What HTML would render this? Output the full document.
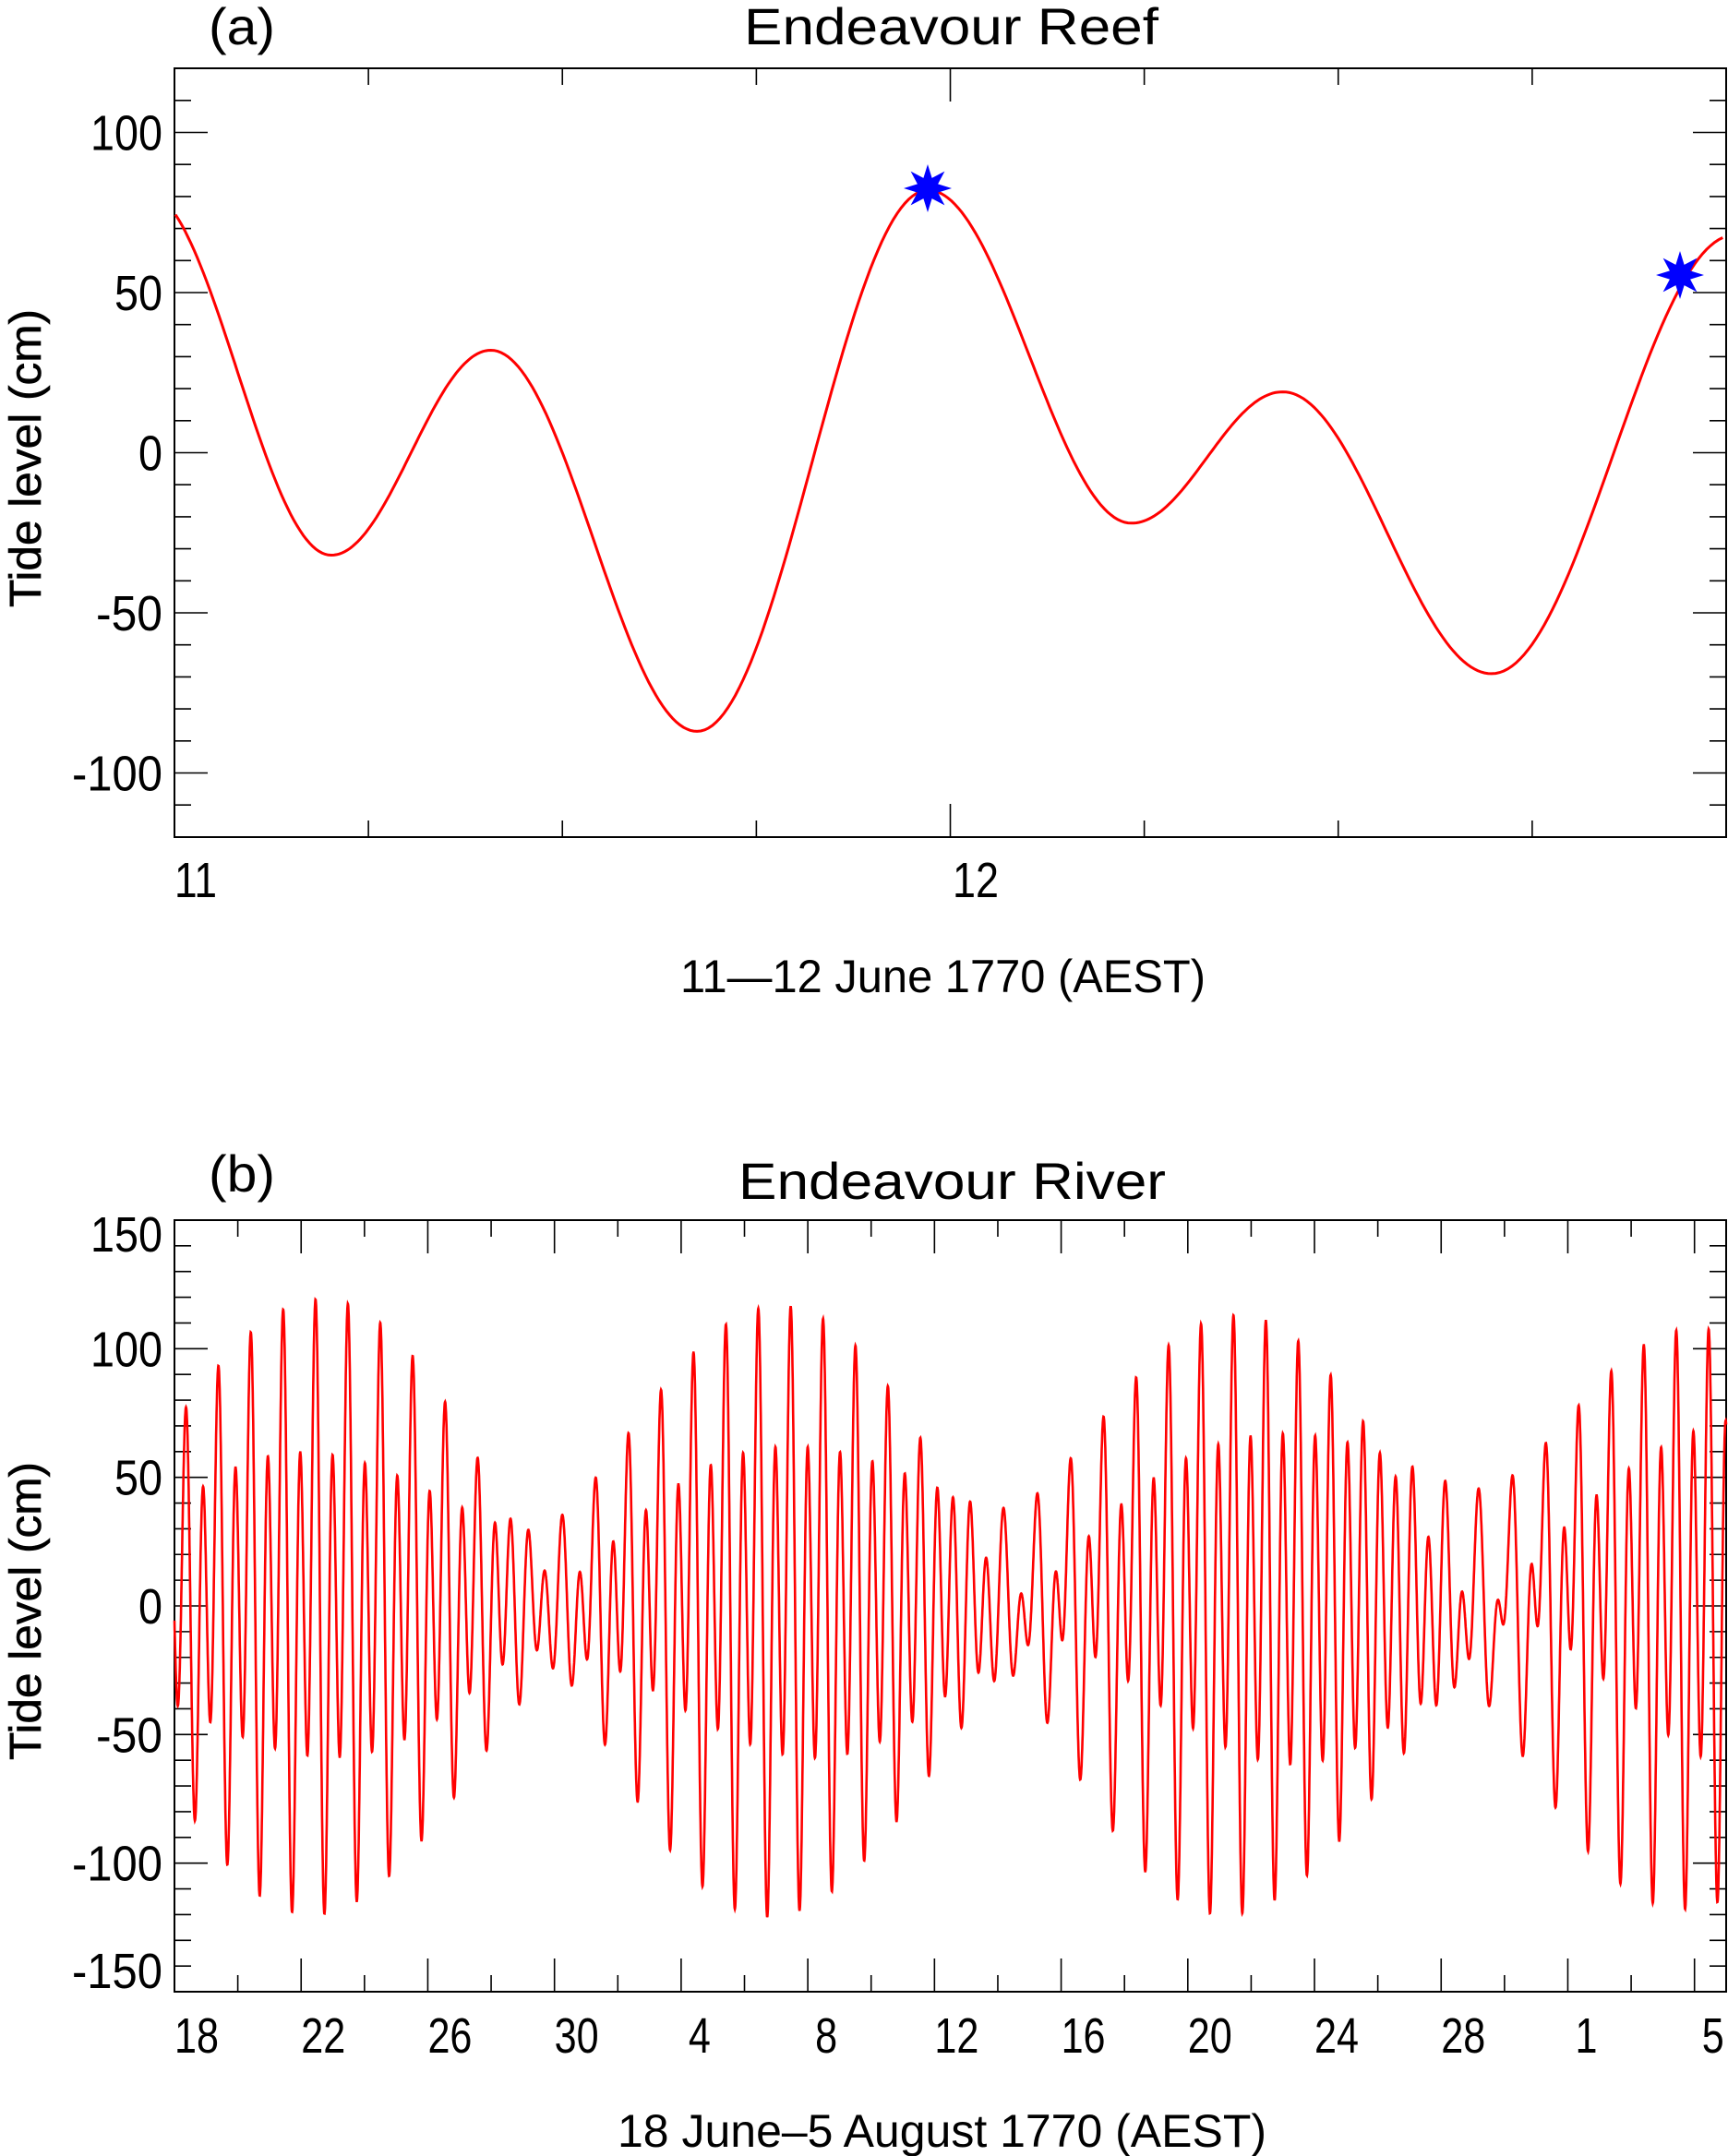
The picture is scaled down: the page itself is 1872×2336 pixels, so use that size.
<!DOCTYPE html>
<html><head><meta charset="utf-8"><style>
html,body{margin:0;padding:0;background:#fff;}
svg{display:block;}
text{font-family:"Liberation Sans",sans-serif;fill:#000;}
</style></head><body>
<svg id="s" width="1872" height="2336" viewBox="0 0 1872 2336" xmlns="http://www.w3.org/2000/svg">
<g font-size="56">
<text x="226" y="48" textLength="72" lengthAdjust="spacingAndGlyphs">(a)</text>
<text x="806" y="48" textLength="449" lengthAdjust="spacingAndGlyphs">Endeavour Reef</text>
<text x="226" y="1291" textLength="72" lengthAdjust="spacingAndGlyphs">(b)</text>
<text x="800" y="1299" textLength="463" lengthAdjust="spacingAndGlyphs">Endeavour River</text>
</g>
<g font-size="50">
<text x="737" y="1075" textLength="569" lengthAdjust="spacingAndGlyphs">11—12 June 1770 (AEST)</text>
<text x="669" y="2326" textLength="703" lengthAdjust="spacingAndGlyphs">18 June–5 August 1770 (AEST)</text>
</g>
<g font-size="48" stroke="#000" stroke-width="0.6">
<text transform="translate(44,658) rotate(-90)" textLength="323" lengthAdjust="spacingAndGlyphs">Tide level (cm)</text>
<text transform="translate(44,1907) rotate(-90)" textLength="323" lengthAdjust="spacingAndGlyphs">Tide level (cm)</text>
</g>
<g id="g"></g>
</svg>
<script>
var NS="http://www.w3.org/2000/svg",G=document.getElementById("g");
function el(t,a,txt){var e=document.createElementNS(NS,t);for(var k in a)e.setAttribute(k,a[k]);if(txt!==undefined)e.textContent=txt;G.appendChild(e);return e;}
var L=189,R=1870;
function frame(T,B){el("rect",{x:L,y:T,width:R-L,height:B-T,fill:"none",stroke:"#000","stroke-width":2});}
function yt(Y,v,major){var l=major?36:18;el("line",{x1:L,y1:Y,x2:L+l,y2:Y,stroke:"#000","stroke-width":1.6});el("line",{x1:R-l,y1:Y,x2:R,y2:Y,stroke:"#000","stroke-width":1.6});}
function xt(X,T,B,major){var l=major?36:18;el("line",{x1:X,y1:B,x2:X,y2:B-l,stroke:"#000","stroke-width":1.6});el("line",{x1:X,y1:T,x2:X,y2:T+l,stroke:"#000","stroke-width":1.6});}
function lab(x,y,s,anchor,w){var a={x:x,y:y,"font-size":54,"text-anchor":anchor};if(w){a.textLength=w;a.lengthAdjust="spacingAndGlyphs";}el("text",a,s);}
function yw(s){var n=s.replace("-","").length;return n*26+(s[0]=="-"?20:0);}
// Panel a
var aT=74,aB=907;function aY(v){return 490.5-v*3.47;}function aX(d){return L+d*840.5;}
frame(aT,aB);
for(var v=-120;v<=120;v+=10){yt(aY(v),v,v%50==0);}
[100,50,0,-50,-100].forEach(function(v){var s=String(v);lab(176,aY(v)+19,s,"end",yw(s));});
for(var d=0;d<=2;d+=0.25){xt(aX(d),aT,aB,d%1==0);}
lab(189,972,"11","start",46);lab(1032,972,"12","start",50);
var ex=[[105,82],[241,-32],[357,32],[507,-87],[675,82],[823,-22],[933,19],[1085,-69],[1262,68]];
var p="";
for(var i=0;i<ex.length-1;i++){var x0=ex[i][0]*1.4893,x1=ex[i+1][0]*1.4893,v0=ex[i][1],v1=ex[i+1][1];
 for(var k=0;k<=60;k++){var t=k/60,x=x0+(x1-x0)*t;if(x<L||x>R)continue;var v=v0+(v1-v0)*(1-Math.cos(Math.PI*t))/2;p+=(p?"L":"M")+x.toFixed(1)+","+aY(v).toFixed(1);}}
el("path",{d:p,fill:"none",stroke:"#ff0000","stroke-width":3});
function star(cx,cy){var s="";for(var i=0;i<16;i++){var r=i%2?12:26,a=Math.PI*i/8-Math.PI/2;s+=(cx+r*Math.cos(a)).toFixed(1)+","+(cy+r*Math.sin(a)).toFixed(1)+" ";}el("polygon",{points:s,fill:"#0000ff"});}
star(1005,204);star(1820,298);
// Panel b
var bT=1322,bB=2158;function bY(v){return 1740-v*2.787;}var dd=(R-L)/49;function bX(d){return L+d*dd;}
frame(bT,bB);
for(var v=-150;v<=150;v+=10){yt(bY(v),v,v%50==0);}
[150,100,50,0,-50,-100,-150].forEach(function(v){var s=String(v),y=bY(v)+19;if(v==150)y=bT+34;if(v==-150)y=bB-4;lab(176,y,s,"end",yw(s));});
for(var d=0;d<=48;d+=2){xt(bX(d),bT,bB,d%4==0);}
var xl=["18","22","26","30","4","8","12","16","20","24","28","1","5"];
xl.forEach(function(s,i){lab(bX(i*4)+(s.length==1?8:0),2224,s,"start",s.length*24);});
p="";var N=7000;
for(var k=0;k<=N;k++){var t=49*k/N;
 var y=55*Math.cos(2*Math.PI*1.9323*(t-4.5)+0.4)+33*Math.cos(2*Math.PI*2.0*(t-4.5)+0.4)
 +26*Math.cos(2*Math.PI*1.0027*(t-4.5)+1.0)+17*Math.cos(2*Math.PI*0.9295*(t-4.5)+1.0);
 p+=(k?"L":"M")+bX(t).toFixed(1)+","+bY(y).toFixed(1);}
el("path",{d:p,fill:"none",stroke:"#ff0000","stroke-width":2.6});
</script>
</body></html>
